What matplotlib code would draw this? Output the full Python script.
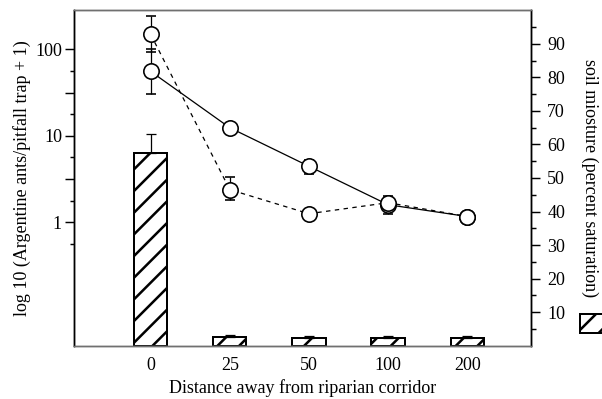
"""Argentine ants vs distance from riparian corridor, with soil moisture bars."""
import numpy as np
import matplotlib as mpl
import matplotlib.pyplot as plt
from matplotlib.patches import Patch
from matplotlib.ticker import FixedLocator, FixedFormatter

DISTANCES = ["0", "25", "50", "100", "200"]

# ants per pitfall trap (+1), two series
ANTS_SOLID = [55.5, 12.4, 4.45, 1.60, 1.17]
ANTS_SOLID_LO = [30.1, 12.4, 3.63, 1.25, 1.17]
ANTS_SOLID_HI = [100.0, 12.4, 5.32, 2.00, 1.17]
ANTS_DASHED = [148.6, 2.39, 1.26, 1.69, 1.17]
ANTS_DASHED_LO = [92.0, 1.83, 1.26, 1.69, 1.17]
ANTS_DASHED_HI = [245.0, 3.32, 1.26, 1.69, 1.17]

# soil moisture (percent saturation), bars with upper error only
MOISTURE = [57.5, 2.7, 2.2, 2.2, 2.2]
MOISTURE_ERR = [5.5, 0.4, 0.7, 0.8, 0.7]

LEFT_MAJOR = [1, 10 ** 0.5, 10, 10 ** 1.5, 100]
LEFT_MAJOR_LABELS = ["1", "", "10", "", "100"]
LEFT_MINOR = [10 ** -0.25, 10 ** 0.25, 10 ** 0.75, 10 ** 1.25, 10 ** 1.75]
RIGHT_MAJOR = [10, 20, 30, 40, 50, 60, 70, 80, 90]
RIGHT_MINOR = [5, 15, 25, 35, 45, 55, 65, 75, 85, 95]

DPI = 130
GREY = "#707070"


def main():
    mpl.rcParams["font.family"] = ["Liberation Serif", "DejaVu Serif"]
    mpl.rcParams["font.size"] = 10
    mpl.rcParams["hatch.linewidth"] = 1.4

    fig = plt.figure(figsize=(602 / DPI, 399 / DPI), dpi=DPI)
    ax = fig.add_axes([0.1234, 0.1336, 0.7586, 0.8406])
    ax2 = ax.twinx()
    ax.set_zorder(ax2.get_zorder() + 1)
    ax.patch.set_visible(False)

    x = np.arange(len(DISTANCES))

    # bars: soil moisture on the right axis
    ax2.bar(x, MOISTURE, width=0.42, facecolor="white", edgecolor="black",
            hatch="//", linewidth=1.1)
    ax2.errorbar(x, MOISTURE, yerr=[np.zeros(len(x)), MOISTURE_ERR], fmt="none",
                 ecolor="black", elinewidth=0.7, capsize=2.5, capthick=0.7)

    # ant lines on the log axis
    s = np.array(ANTS_SOLID)
    d = np.array(ANTS_DASHED)
    ax.errorbar(x, s, yerr=[s - np.array(ANTS_SOLID_LO), np.array(ANTS_SOLID_HI) - s],
                fmt="-o", color="black", mfc="white", mec="black", ms=8.5, mew=0.9,
                lw=0.7, elinewidth=0.7, capsize=2.5, capthick=0.7)
    ax.errorbar(x, d, yerr=[d - np.array(ANTS_DASHED_LO), np.array(ANTS_DASHED_HI) - d],
                fmt="o", ls=(0, (3.5, 3.5)), color="black", mfc="white", mec="black",
                ms=8.5, mew=0.9, lw=0.7, elinewidth=0.7, capsize=2.5, capthick=0.7)

    ax.set_yscale("log")
    ax.set_ylim(10 ** -1.424, 10 ** 2.45)
    ax.yaxis.set_major_locator(FixedLocator(LEFT_MAJOR))
    ax.yaxis.set_major_formatter(FixedFormatter(LEFT_MAJOR_LABELS))
    ax.yaxis.set_minor_locator(FixedLocator(LEFT_MINOR))
    ax.yaxis.set_minor_formatter(FixedFormatter([""] * len(LEFT_MINOR)))
    ax.tick_params(axis="y", which="major", length=4.8, width=0.8, pad=2)
    ax.tick_params(axis="y", which="minor", length=2.4, width=0.8)

    ax2.set_ylim(0, 100)
    ax2.yaxis.set_major_locator(FixedLocator(RIGHT_MAJOR))
    ax2.yaxis.set_minor_locator(FixedLocator(RIGHT_MINOR))
    ax2.tick_params(axis="y", which="major", length=5, width=0.8, pad=4)
    ax2.tick_params(axis="y", which="minor", length=2.5, width=0.8)

    ax.set_xlim(-0.965, 4.805)
    ax.set_xticks(x)
    ax.set_xticklabels(DISTANCES)
    ax.tick_params(axis="x", length=0, pad=6)
    ax2.tick_params(axis="x", length=0)

    for a in (ax, ax2):
        a.spines["top"].set_color(GREY)
        a.spines["bottom"].set_color(GREY)
        a.spines["left"].set_color("black")
        a.spines["right"].set_color("black")
        for sp in a.spines.values():
            sp.set_linewidth(0.8)

    ax.set_xlabel("Distance away from riparian corridor", va="center")
    ax.xaxis.set_label_coords(0.5, -0.126)
    ax.set_ylabel("log 10 (Argentine ants/pitfall trap + 1)", va="center")
    ax.yaxis.set_label_coords(-0.115, 0.5)
    ax2.set_ylabel("soil miosture (percent saturation)", rotation=270, va="center")
    ax2.yaxis.set_label_coords(1.129, 0.5)

    # legend key, cut off at the right edge like the original
    fig.legend(handles=[Patch(facecolor="white", edgecolor="black", hatch="//", linewidth=1.1)],
               labels=[" "], loc="upper left", bbox_to_anchor=(0.963, 0.213),
               frameon=False, handlelength=3.0, handleheight=1.25, borderpad=0,
               borderaxespad=0)

    fig.savefig("out.png", dpi=DPI)
    plt.close(fig)


if __name__ == "__main__":
    main()
